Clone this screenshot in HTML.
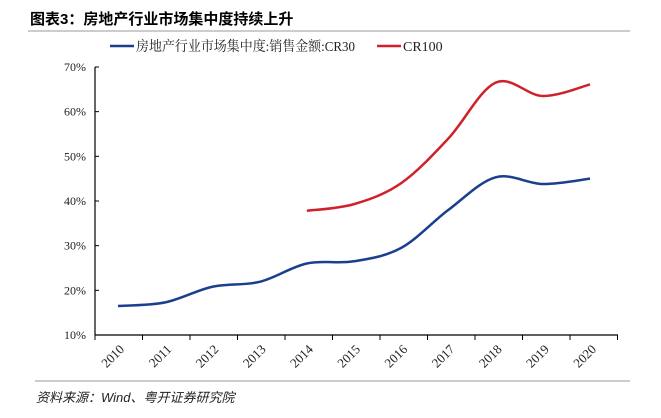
<!DOCTYPE html>
<html><head><meta charset="utf-8"><style>
body{margin:0;background:#fff;width:661px;height:413px;overflow:hidden;font-family:"Liberation Serif","Noto Serif CJK SC",serif}
</style></head><body>
<svg id="s" width="661" height="413" xmlns="http://www.w3.org/2000/svg">
<text x="30" y="24" font-family="Liberation Sans,Noto Sans CJK SC,sans-serif" font-weight="bold" font-size="15" fill="#000">图表3：房地产行业市场集中度持续上升</text>
<line x1="28" y1="31" x2="630" y2="31" stroke="#bbb" stroke-width="1.5"/>
<line x1="110" y1="46" x2="134" y2="46" stroke="#1a3f8f" stroke-width="2.5"/>
<text x="136" y="51" font-size="14" fill="#222" textLength="219" lengthAdjust="spacingAndGlyphs" font-family="Liberation Serif,Noto Serif CJK SC,serif">房地产行业市场集中度:销售金额:CR30</text>
<line x1="377" y1="46" x2="401" y2="46" stroke="#d0202a" stroke-width="2.5"/>
<text x="403" y="51" font-size="14" fill="#222">CR100</text>
<g font-size="12" fill="#222" text-anchor="end" id="yl"></g>
<line x1="95" y1="67" x2="95" y2="335" stroke="#000" stroke-width="1.2"/>
<line x1="95" y1="335" x2="618" y2="335" stroke="#000" stroke-width="1.2"/>
<g id="xt"></g>
<path id="p1" fill="none" stroke="#1a3f8f" stroke-width="2.5"/>
<path id="p2" fill="none" stroke="#d0202a" stroke-width="2.5"/>
<line x1="35" y1="381" x2="630" y2="381" stroke="#bbb" stroke-width="1.5"/>
<text x="36" y="402" font-family="Liberation Sans,Noto Sans CJK SC,sans-serif" font-style="italic" font-size="13" fill="#222">资料来源：Wind、粤开证券研究院</text>
</svg>
<script>
var NS="http://www.w3.org/2000/svg",s=document.getElementById('s');
function el(t,a,p,txt){var e=document.createElementNS(NS,t);for(var k in a)e.setAttribute(k,a[k]);if(txt)e.textContent=txt;(p||s).appendChild(e);return e;}
var Y=function(v){return 335-(v-10)*4.467};
var yl=document.getElementById('yl');
for(var v=10;v<=70;v+=10){el('text',{x:86,y:Y(v)+4},yl,v+'%');el('line',{x1:95,y1:Y(v),x2:99,y2:Y(v),stroke:'#000'});}
var xt=document.getElementById('xt');
for(var i=0;i<=11;i++){var x=95+47.5*i;el('line',{x1:x,y1:335,x2:x,y2:340,stroke:'#000'},xt);}
for(var i=0;i<=10;i++){var x=118+47.2*i+7;el('text',{x:x,y:350,'font-size':13,fill:'#222','text-anchor':'end',transform:'rotate(-45 '+x+' 350)'},xt,String(2010+i));}
function path(d,start){var p=d.map(function(v,i){return [118+47.2*(i+start),Y(v)]});
var s='M'+p[0][0]+','+p[0][1];
for(var i=0;i<p.length-1;i++){var p0=p[i-1]||p[i],p1=p[i],p2=p[i+1],p3=p[i+2]||p2,t=6;
s+=' C'+(p1[0]+(p2[0]-p0[0])/t)+','+(p1[1]+(p2[1]-p0[1])/t)+' '+(p2[0]-(p3[0]-p1[0])/t)+','+(p2[1]-(p3[1]-p1[1])/t)+' '+p2[0]+','+p2[1];}
return s;}
document.getElementById('p1').setAttribute('d',path([16.5,17.3,20.8,21.9,26,26.5,29.5,38,45.3,43.8,45],0));
document.getElementById('p2').setAttribute('d',path([37.8,39.3,44,54,66.5,63.5,66.1],4));
</script>
</body></html>
